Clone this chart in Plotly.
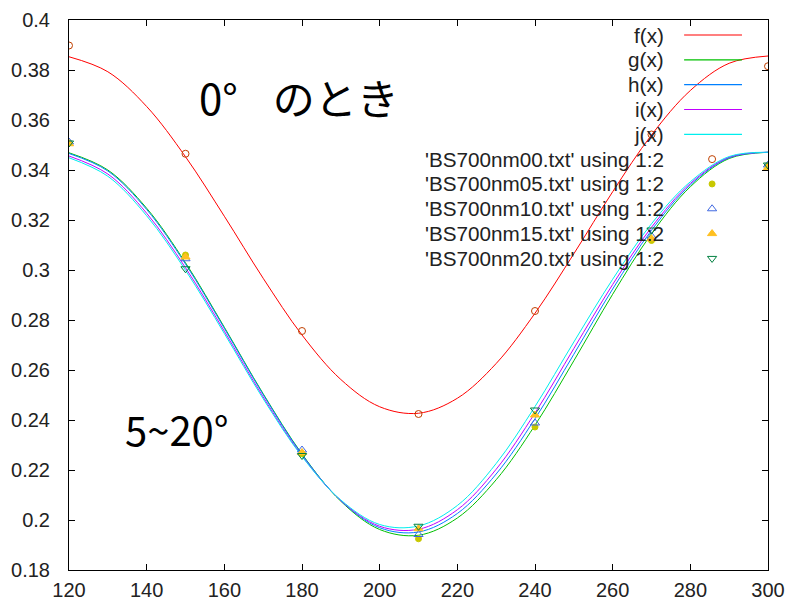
import plotly.graph_objects as go

# ---------------- data ----------------
x_curve = [120, 130, 140, 150, 160, 170, 180, 190, 200, 210,
           220, 230, 240, 250, 260, 270, 280, 290, 300]
f_curve = [0.3853, 0.3793, 0.3654, 0.3453, 0.3215, 0.2967, 0.2740, 0.2562, 0.2453, 0.2427,
           0.2487, 0.2626, 0.2827, 0.3065, 0.3313, 0.3540, 0.3718, 0.3827, 0.3856]
g_curve = [0.3469, 0.3400, 0.3247, 0.3029, 0.2771, 0.2505, 0.2264, 0.2075, 0.1962, 0.1939,
           0.2008, 0.2161, 0.2379, 0.2637, 0.2903, 0.3145, 0.3333, 0.3446, 0.3471]
h_curve = [0.3466, 0.3396, 0.3242, 0.3024, 0.2767, 0.2502, 0.2262, 0.2077, 0.1969, 0.1952,
           0.2026, 0.2184, 0.2405, 0.2663, 0.2924, 0.3159, 0.3340, 0.3449, 0.3471]
i_curve = [0.3456, 0.3384, 0.3227, 0.3009, 0.2755, 0.2492, 0.2257, 0.2078, 0.1975, 0.1963,
           0.2041, 0.2203, 0.2428, 0.2686, 0.2942, 0.3171, 0.3346, 0.3451, 0.3471]
j_curve = [0.3449, 0.3375, 0.3217, 0.2999, 0.2746, 0.2485, 0.2254, 0.2080, 0.1982, 0.1976,
           0.2058, 0.2226, 0.2454, 0.2712, 0.2963, 0.3185, 0.3353, 0.3454, 0.3471]

x_data = [120, 150, 180, 210, 240, 270, 300]
bs00 = [0.3898, 0.3465, 0.2756, 0.2424, 0.2836, 0.3542, 0.3815]
bs05 = [0.3508, 0.3060, 0.2265, 0.1925, 0.2372, 0.3118, 0.3418]
bs10 = [0.3512, 0.3045, 0.2280, 0.1942, 0.2388, 0.3135, 0.3420]
bs15 = [0.3505, 0.3052, 0.2270, 0.1965, 0.2420, 0.3125, 0.3410]
bs20 = [0.3508, 0.3005, 0.2258, 0.1975, 0.2440, 0.3160, 0.3420]

line_names = ["f(x)", "g(x)", "h(x)", "i(x)", "j(x)"]
point_names = ["'BS700nm00.txt' using 1:2", "'BS700nm05.txt' using 1:2",
               "'BS700nm10.txt' using 1:2", "'BS700nm15.txt' using 1:2",
               "'BS700nm20.txt' using 1:2"]

x_tickvals = [120, 140, 160, 180, 200, 220, 240, 260, 280, 300]
x_ticktext = ["120", "140", "160", "180", "200", "220", "240", "260", "280", "300"]
y_tickvals = [0.18, 0.20, 0.22, 0.24, 0.26, 0.28, 0.30, 0.32, 0.34, 0.36, 0.38, 0.40]
y_ticktext = ["0.18", "0.2", "0.22", "0.24", "0.26", "0.28", "0.3", "0.32", "0.34", "0.36", "0.38", "0.4"]

# ---------------- styles ----------------
line_colors = ["#ff0000", "#00c000", "#0080ff", "#c000ff", "#00eeee"]
point_colors = ["#c04000", "#c8c800", "#4169e1", "#ffc020", "#008040"]
point_symbols = ["circle-open", "circle", "triangle-up-open", "triangle-up", "triangle-down-open"]
point_sizes = [7, 6, 8, 8, 8]

curves = [f_curve, g_curve, h_curve, i_curve, j_curve]
points = [bs00, bs05, bs10, bs15, bs20]

TEXT_FONT = "Liberation Sans, Arial, sans-serif"
TXT = "#222222"
KEY_FONT_SIZE = 20.7

fig = go.Figure()

for name, ys, col in zip(line_names, curves, line_colors):
    fig.add_trace(go.Scatter(x=x_curve, y=ys, mode="lines", name=name,
                             line=dict(color=col, width=1, shape="spline", smoothing=1.0),
                             showlegend=False, hoverinfo="skip"))

for name, ys, col, sym, sz in zip(point_names, points, point_colors, point_symbols, point_sizes):
    fig.add_trace(go.Scatter(x=x_data, y=ys, mode="markers", name=name,
                             marker=dict(color=col, symbol=sym, size=sz, line=dict(color=col, width=1)),
                             showlegend=False, hoverinfo="skip"))

# ---------------- gnuplot-style key (top right, text right-aligned, sample on right) ----------------
KEY_TEXT_X = 273.8
KEY_LINE_X0 = 278.4
KEY_LINE_X1 = 293.3
KEY_MARK_X = 285.6
KEY_Y0 = 0.3940
KEY_DY = 0.00993

annotations = []
for k, (name, col) in enumerate(zip(line_names, line_colors)):
    yk = KEY_Y0 - k * KEY_DY
    annotations.append(dict(x=KEY_TEXT_X, y=yk, xref="x", yref="y", text=name, showarrow=False,
                            xanchor="right", yanchor="middle",
                            font=dict(family=TEXT_FONT, size=KEY_FONT_SIZE, color=TXT)))
    fig.add_trace(go.Scatter(x=[KEY_LINE_X0, KEY_LINE_X1], y=[yk, yk], mode="lines",
                             line=dict(color=col, width=1.2),
                             showlegend=False, hoverinfo="skip"))
for k, (name, col, sym, sz) in enumerate(zip(point_names, point_colors, point_symbols, point_sizes)):
    yk = KEY_Y0 - (k + 5) * KEY_DY
    annotations.append(dict(x=KEY_TEXT_X, y=yk, xref="x", yref="y", text=name, showarrow=False,
                            xanchor="right", yanchor="middle",
                            font=dict(family=TEXT_FONT, size=KEY_FONT_SIZE, color=TXT)))
    fig.add_trace(go.Scatter(x=[KEY_MARK_X], y=[yk], mode="markers",
                             marker=dict(color=col, symbol=sym, size=sz, line=dict(color=col, width=1)),
                             showlegend=False, hoverinfo="skip"))

# big Japanese labels
annotations.append(dict(x=153.0, y=0.3695, xref="x", yref="y", text="0°\u2002\u2004のとき", showarrow=False,
                        xanchor="left", yanchor="middle",
                        font=dict(family="Noto Sans CJK JP", size=42, color="#000000")))
annotations.append(dict(x=134.0, y=0.2365, xref="x", yref="y", text="5~20°", showarrow=False,
                        xanchor="left", yanchor="middle",
                        font=dict(family="Noto Sans CJK JP", size=40, color="#000000")))

fig.update_layout(
    width=786, height=603,
    margin=dict(l=69, r=18, t=20, b=33, autoexpand=False),
    paper_bgcolor="white", plot_bgcolor="white",
    annotations=annotations,
    showlegend=False,
    font=dict(family=TEXT_FONT, size=20, color=TXT),
)
fig.update_xaxes(range=[120, 300], tickvals=x_tickvals, ticktext=x_ticktext, automargin=False,
                 showgrid=False, zeroline=False, showline=True, linecolor="black", linewidth=1,
                 mirror="ticks", ticks="inside", ticklen=6, tickcolor="black", tickwidth=1,
                 ticklabelstandoff=2, tickfont=dict(family=TEXT_FONT, size=20, color=TXT))
fig.update_yaxes(range=[0.18, 0.40], tickvals=y_tickvals, ticktext=y_ticktext, automargin=False,
                 showgrid=False, zeroline=False, showline=True, linecolor="black", linewidth=1,
                 mirror="ticks", ticks="inside", ticklen=6, tickcolor="black", tickwidth=1,
                 ticklabelstandoff=14, tickfont=dict(family=TEXT_FONT, size=20, color=TXT))

fig.write_html("out.html")
